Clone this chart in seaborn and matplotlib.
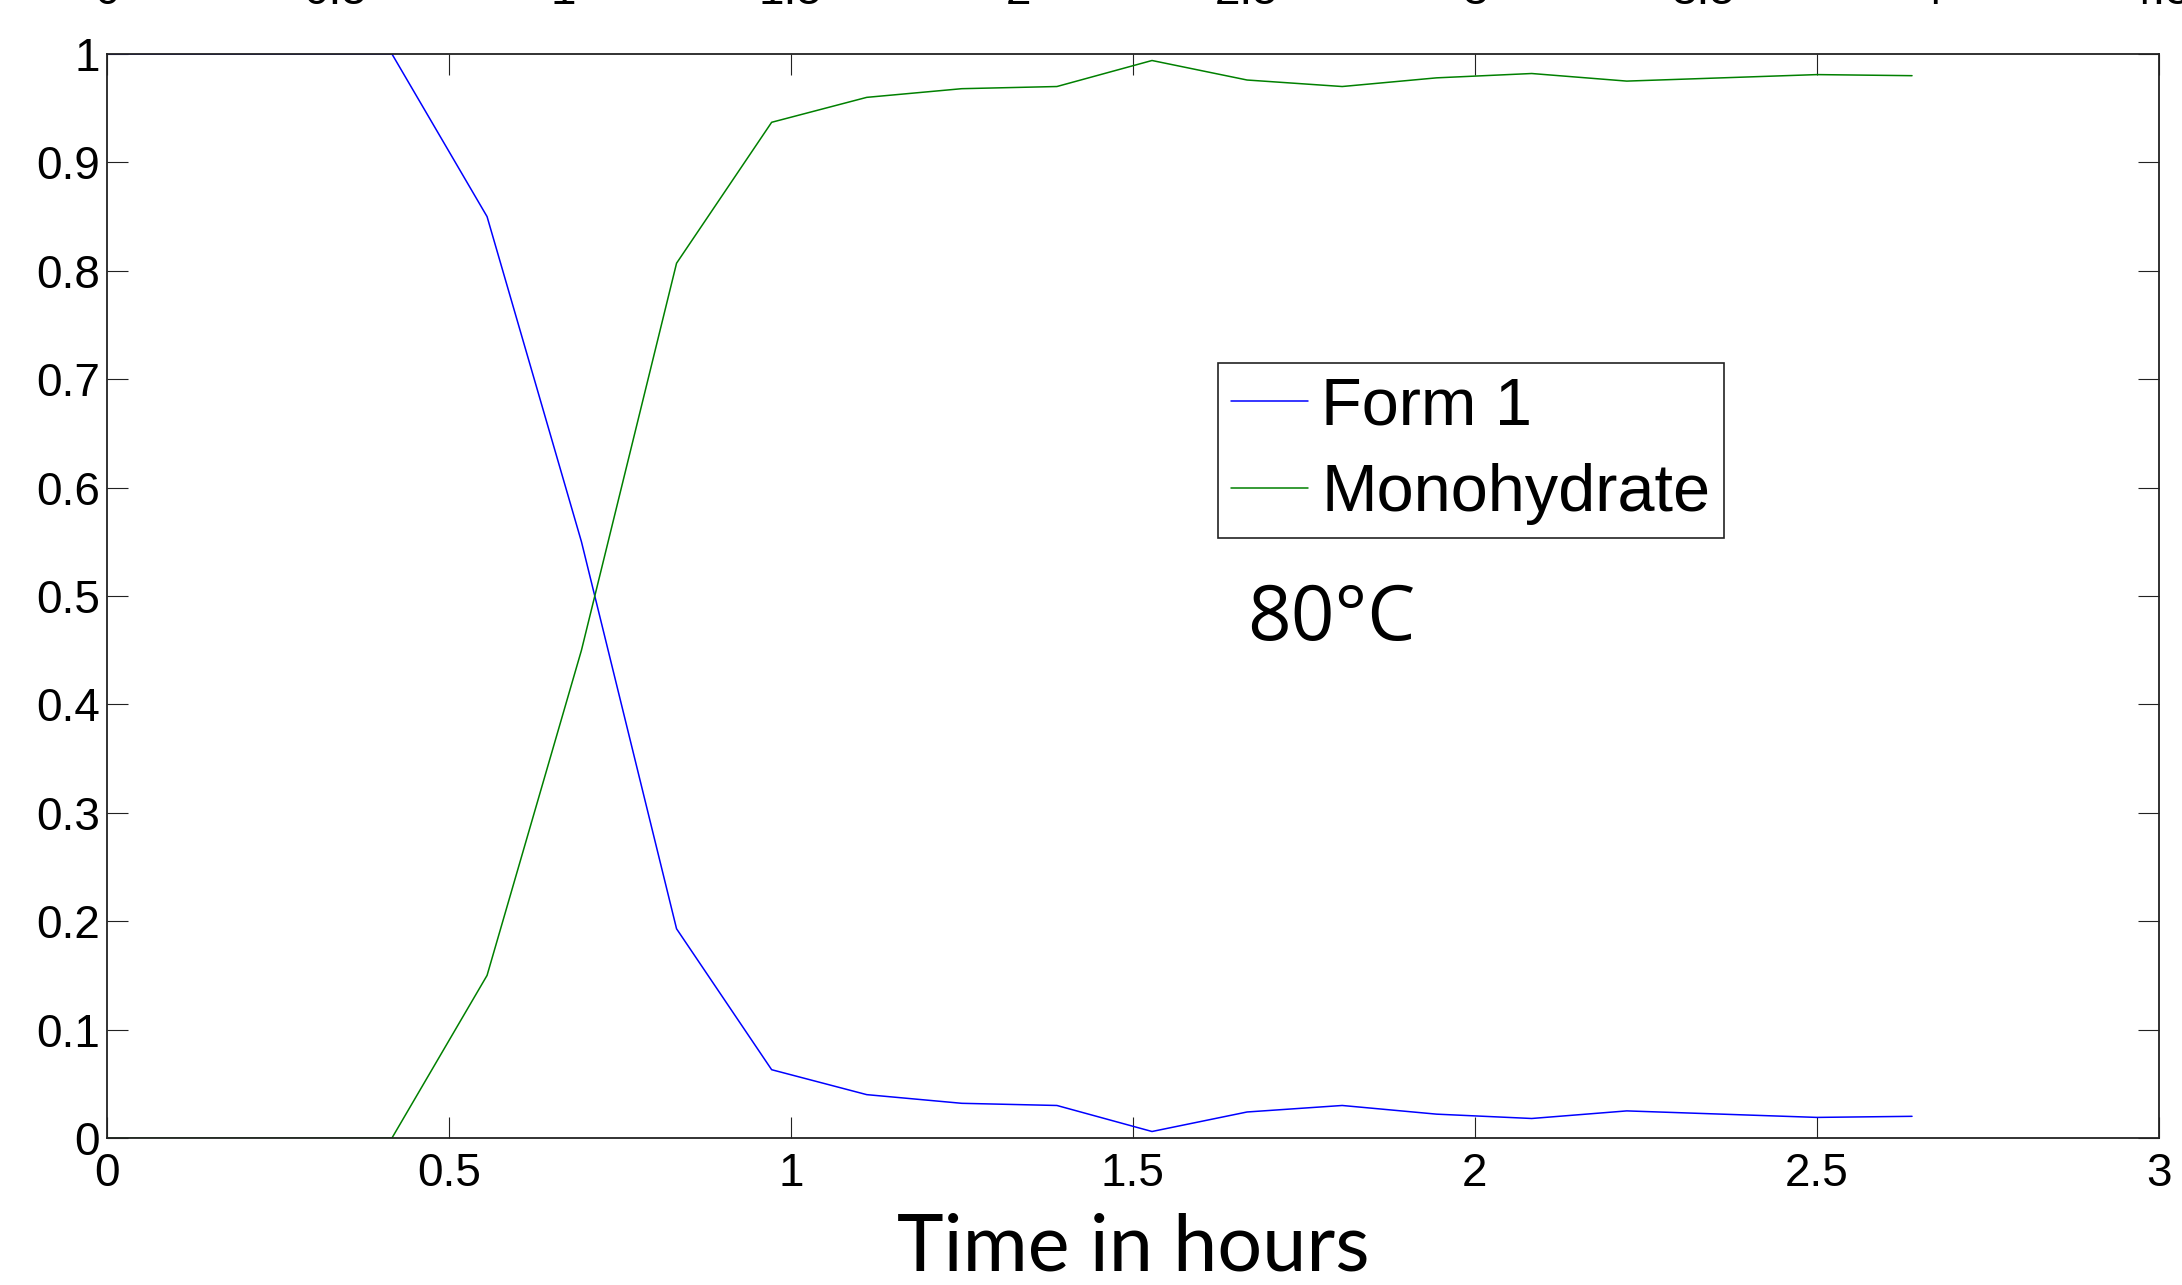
import warnings
warnings.filterwarnings("ignore")

import pandas as pd
import matplotlib.pyplot as plt
import matplotlib.transforms as mtransforms
import seaborn as sns

# Data (fraction of each form vs time)
time_h = [0.0, 0.139, 0.278, 0.417, 0.556, 0.694, 0.833, 0.972, 1.111, 1.25,
          1.389, 1.528, 1.667, 1.806, 1.944, 2.083, 2.222, 2.361, 2.5, 2.639]
form1 = [1.0, 1.0, 1.0, 1.0, 0.85, 0.55, 0.193, 0.063, 0.040, 0.032,
         0.030, 0.006, 0.024, 0.030, 0.022, 0.018, 0.025, 0.022, 0.019, 0.020]
monohydrate = [0.0, 0.0, 0.0, 0.0, 0.15, 0.45, 0.807, 0.937, 0.960, 0.968,
               0.970, 0.994, 0.976, 0.970, 0.978, 0.982, 0.975, 0.978, 0.981, 0.980]

x_ticks = [0, 0.5, 1, 1.5, 2, 2.5, 3]
x_labels = ["0", "0.5", "1", "1.5", "2", "2.5", "3"]
y_ticks = [0, 0.1, 0.2, 0.3, 0.4, 0.5, 0.6, 0.7, 0.8, 0.9, 1.0]
y_labels = ["0", "0.1", "0.2", "0.3", "0.4", "0.5", "0.6", "0.7", "0.8", "0.9", "1"]
# tick labels of the plot above, cut off at the top edge
top_ticks = [0, 0.5, 1, 1.5, 2, 2.5, 3, 3.5, 4, 4.5]
top_labels = ["0", "0.5", "1", "1.5", "2", "2.5", "3", "3.5", "4", "4.5"]

df = pd.DataFrame({"time": time_h, "Form 1": form1, "Monohydrate": monohydrate})

sns.set_theme(style="white")
plt.rcParams["font.family"] = ["Liberation Sans", "DejaVu Sans"]
plt.rcParams["text.color"] = "black"
plt.rcParams["xtick.color"] = "black"
plt.rcParams["ytick.color"] = "black"
plt.rcParams["axes.labelcolor"] = "black"

W, H = 2182, 1285
fig = plt.figure(figsize=(W / 100, H / 100), dpi=100)
ax = fig.add_axes([106.7 / W, 1 - 1138 / H, (2159 - 106.7) / W, (1138 - 54) / H])

sns.lineplot(data=df, x="time", y="Form 1", color=(0, 0, 1), linewidth=1.1,
             label="Form 1", ax=ax)
sns.lineplot(data=df, x="time", y="Monohydrate", color=(0, 0.5, 0), linewidth=1.1,
             label="Monohydrate", ax=ax)

ax.set_xlim(0, 3)
ax.set_ylim(0, 1)
ax.set_xticks(x_ticks)
ax.set_xticklabels(x_labels, fontsize=33)
ax.set_yticks(y_ticks)
ax.set_yticklabels(y_labels, fontsize=33)
ax.tick_params(axis="both", direction="in", length=15, width=0.8, color="#222222",
               top=True, right=True, bottom=True, left=True)
ax.tick_params(axis="x", pad=10)
ax.tick_params(axis="y", pad=5)
for s in ax.spines.values():
    s.set_visible(True)
    s.set_color("#222222")
    s.set_linewidth(1.3)

ax.set_ylabel("")
ax.set_xlabel("Time in hours", fontsize=57, family=["Lato", "DejaVu Sans"], labelpad=12)

leg = ax.legend(loc="upper left", bbox_to_anchor=(1218 / W, 1 - 363 / H),
                bbox_transform=fig.transFigure, borderaxespad=0, fontsize=48,
                handlelength=1.15, handletextpad=0.2, borderpad=0.2,
                labelspacing=0.37, fancybox=False, framealpha=1)
leg.get_frame().set_edgecolor("#222222")
leg.get_frame().set_linewidth(1.2)

ax.text(1247 / W, 1 - 640 / H, "80°C", transform=fig.transFigure, fontsize=55,
        family=["Open Sans", "DejaVu Sans"], ha="left", va="baseline")

# cut-off tick labels from the panel above
ax_top = fig.add_axes([106.7 / W, 0.99, (2159 - 106.7) / W, 0.005])
ax_top.set_xlim(0, 4.5)
ax_top.axis("off")
trans = mtransforms.blended_transform_factory(ax_top.transData, fig.transFigure)
for t, lab in zip(top_ticks, top_labels):
    ax_top.text(t, 1 - 4 / H, lab, transform=trans, ha="center", va="baseline",
                fontsize=33, clip_on=False)

fig.savefig("out.png", dpi=100)
